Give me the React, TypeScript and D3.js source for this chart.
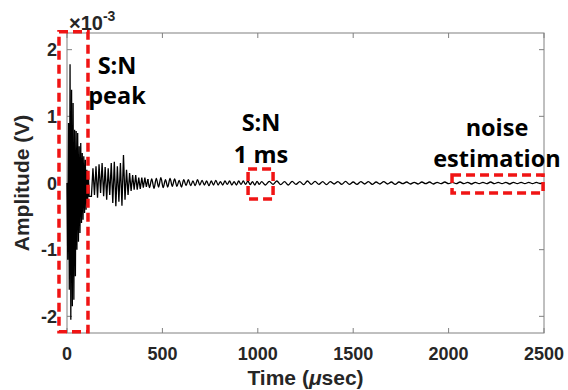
import React from "react";
import * as d3 from "d3";

// ---- data (amplitude in mV, i.e. x10^-3 V) ----
// burst: t = 0..116 µs, step 4 µs
const burstStart = 0;
const burstStep = 4;
const burstValues = [
  0, -1.15, 0.9, -1.6, 1.78, -2.05, 1.4, -1.85, 1.2, -1.75, 0.8, -1.4, 0.78, -1.0, 0.75, -0.88,
  0.55, -0.75, 0.6, -0.6, 0.45, -0.55, 0.4, -0.45, 0.35, -0.4, 0.2, -0.3, 0.15, -0.2,
];
// coda: t = 128..424 µs, step 8 µs
const codaStart = 128;
const codaStep = 8;
const codaValues = [
  -0.2, 0.22, -0.18, 0.25, -0.22, 0.28, -0.15, 0.3, -0.2, 0.24, -0.25, 0.22, -0.18, 0.3, -0.3,
  0.32, -0.35, 0.25, -0.28, 0.3, -0.34, 0.42, -0.25, 0.2, -0.18, 0.15, -0.12, 0.12, -0.1, 0.12,
  -0.1, 0.08, -0.09, 0.08, -0.07, 0.08, -0.06, 0.06,
];
// tail: t = 432..1020 µs, step 12 µs
const tailStart = 432;
const tailStep = 12;
const tailValues = [
  -0.07, 0.06, -0.08, 0.07, -0.06, 0.08, -0.07, 0.05, -0.06, 0.07,
  -0.05, 0.06, -0.05, 0.04, -0.06, 0.05, -0.04, 0.05, -0.04, 0.03,
  -0.04, 0.05, -0.03, 0.04, -0.03, 0.03, -0.04, 0.03, -0.03, 0.04,
  -0.03, 0.02, -0.03, 0.03, -0.02, 0.03, -0.03, 0.02, -0.03, 0.03,
  -0.02, 0.03, -0.02, 0.03, -0.025, 0.02, -0.03, 0.025, -0.02, 0.02,
];
// noise floor: t = 1040..2500 µs, step 20 µs
const noiseStart = 1040;
const noiseStep = 20;
const noiseValues = [
  -0.03, 0.025, -0.02, 0.03, -0.025, 0.02, -0.03, 0.025, -0.02, 0.02,
  -0.025, 0.03, -0.02, 0.025, -0.02, 0.02, -0.025, 0.02, -0.015, 0.02,
  -0.02, 0.025, -0.02, 0.015, -0.02, 0.02, -0.015, 0.02, -0.02, 0.015,
  -0.015, 0.02, -0.015, 0.015, -0.02, 0.015, -0.01, 0.015, -0.015, 0.01,
  -0.015, 0.015, -0.01, 0.015, -0.015, 0.01, -0.01, 0.015, -0.01, 0.01,
  -0.01, 0.015, -0.01, 0.01, -0.015, 0.01, -0.01, 0.01, -0.01, 0.015,
  -0.01, 0.01, -0.01, 0.01, -0.015, 0.01, -0.01, 0.01, -0.01, 0.01,
  -0.01, 0.01, -0.01, 0.005,
];

const xTicks = [0, 500, 1000, 1500, 2000, 2500];
const yTicks = [-2, -1, 0, 1, 2];

// annotation boxes [t0, t1, a0, a1] and labels
const boxT0 = [-42, 949, 2018];
const boxT1 = [110, 1080, 2495];
const boxA0 = [2.27, 0.21, 0.12];
const boxA1 = [-2.23, -0.24, -0.15];
const labelLines = [
  ["S:N", "peak"],
  ["S:N", "1 ms"],
  ["noise", "estimation"],
];

const W = 568;
const H = 390;
const M = { left: 67, right: 544, top: 33, bottom: 333 };

type Pt = { t: number; a: number };
function seg(start: number, step: number, vals: number[]): Pt[] {
  return vals.map((v, i) => ({ t: start + i * step, a: v }));
}

export default function App() {
  const early = [
    ...seg(burstStart, burstStep, burstValues),
    ...seg(codaStart, codaStep, codaValues),
  ];
  const late = [
    early[early.length - 1],
    ...seg(tailStart, tailStep, tailValues),
    ...seg(noiseStart, noiseStep, noiseValues),
  ];
  const x = d3.scaleLinear().domain([0, 2500]).range([M.left, M.right]);
  const y = d3.scaleLinear().domain([-2.25, 2.25]).range([M.bottom, M.top]);
  const lineSharp = d3
    .line<Pt>()
    .x((d) => x(d.t))
    .y((d) => y(d.a));
  const lineSmooth = d3
    .line<Pt>()
    .curve(d3.curveMonotoneX)
    .x((d) => x(d.t))
    .y((d) => y(d.a));

  const axisColor = "#808080";
  const tickFont = "'Liberation Sans', Arial, sans-serif";
  const annFont = "'Open Sans', sans-serif";
  const labelPos = [
    { x: 117, y1: 74, y2: 104 },
    { x: 261, y1: 131, y2: 163 },
    { x: 497, y1: 136, y2: 167 },
  ];

  return (
    <svg
      width={W}
      height={H}
      style={{ position: "absolute", left: 0, top: 0, background: "#fff" }}
    >
      <rect
        x={M.left}
        y={M.top}
        width={M.right - M.left}
        height={M.bottom - M.top}
        fill="none"
        stroke={axisColor}
        strokeWidth={1}
      />
      {xTicks.map((t) => (
        <g key={"xt" + t}>
          <line x1={x(t)} x2={x(t)} y1={M.bottom} y2={M.bottom - 5} stroke={axisColor} />
          <line x1={x(t)} x2={x(t)} y1={M.top} y2={M.top + 5} stroke={axisColor} />
          <text
            x={x(t)}
            y={360}
            textAnchor="middle"
            fontFamily={tickFont}
            fontWeight="bold"
            fontSize={18}
            fill="#262626"
          >
            {t}
          </text>
        </g>
      ))}
      {yTicks.map((v) => (
        <g key={"yt" + v}>
          <line x1={M.left} x2={M.left + 5} y1={y(v)} y2={y(v)} stroke={axisColor} />
          <line x1={M.right} x2={M.right - 5} y1={y(v)} y2={y(v)} stroke={axisColor} />
          <text
            x={57}
            y={y(v) + 6.5}
            textAnchor="end"
            fontFamily={tickFont}
            fontWeight="bold"
            fontSize={18}
            fill="#262626"
          >
            {v}
          </text>
        </g>
      ))}
      <text x={69} y={30} fontFamily={tickFont} fontWeight="bold" fontSize={20} fill="#262626">
        ×10
        <tspan dy={-9} fontSize={14}>
          -3
        </tspan>
      </text>
      <text
        transform={`translate(29,${(M.top + M.bottom) / 2}) rotate(-90)`}
        textAnchor="middle"
        fontFamily={tickFont}
        fontWeight="bold"
        fontSize={21}
        fill="#262626"
      >
        Amplitude (V)
      </text>
      <text
        x={(M.left + M.right) / 2}
        y={385}
        textAnchor="middle"
        fontFamily={tickFont}
        fontWeight="bold"
        fontSize={21}
        fill="#262626"
      >
        Time (<tspan fontStyle="italic">μ</tspan>sec)
      </text>
      <path d={lineSharp(early) || ""} fill="none" stroke="#000" strokeWidth={1.3} />
      <path d={lineSmooth(late) || ""} fill="none" stroke="#000" strokeWidth={1.3} />
      {boxT0.map((t0, i) => (
        <rect
          key={"box" + i}
          x={x(t0)}
          y={y(boxA0[i])}
          width={x(boxT1[i]) - x(t0)}
          height={y(boxA1[i]) - y(boxA0[i])}
          fill="none"
          stroke="#f01414"
          strokeWidth={3.5}
          strokeDasharray="9,5"
        />
      ))}
      {labelLines.map((ls, i) => (
        <g key={"lab" + i}>
          <text
            x={labelPos[i].x}
            y={labelPos[i].y1}
            textAnchor="middle"
            fontFamily={annFont}
            fontWeight="bold"
            fontSize={23.5}
            fill="#000"
          >
            {ls[0]}
          </text>
          <text
            x={labelPos[i].x}
            y={labelPos[i].y2}
            textAnchor="middle"
            fontFamily={annFont}
            fontWeight="bold"
            fontSize={23.5}
            fill="#000"
          >
            {ls[1]}
          </text>
        </g>
      ))}
    </svg>
  );
}
